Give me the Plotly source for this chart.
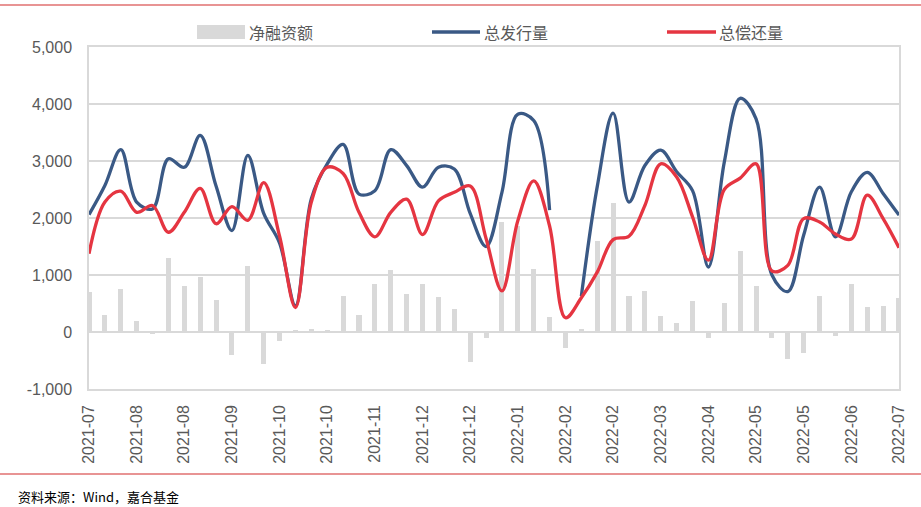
import pandas as pd
import plotly.graph_objects as go

# weekly categories (x positions are categories)
weeks = list(pd.date_range("2021-07-11", periods=52, freq="7D").strftime("%Y-%m-%d"))
tick_labels = ["2021-07", "2021-08", "2021-08", "2021-09", "2021-10", "2021-10",
               "2021-11", "2021-12", "2021-12", "2022-01", "2022-02", "2022-02",
               "2022-03", "2022-04", "2022-05", "2022-05", "2022-06", "2022-07"]

net_financing = [700, 290, 750, 200, -30, 1300, 800, 960, 570, -410,
                 1150, -570, -150, 30, 60, 20, 625, 300, 850, 1080,
                 670, 850, 615, 400, -530, -100, 1930, 1860, 1100, 265,
                 -275, 60, 1590, 2270, 640, 720, 280, 150, 540, -110,
                 510, 1415, 800, -100, -480, -360, 640, -70, 850, 440,
                 450, 590]
total_issuance = [2060, 2570, 3200, 2280, 2160, 3040, 2890, 3450, 2560, 1780,
                  3100, 2080, 1560, 460, 2340, 2950, 3290, 2420, 2480, 3200,
                  2920, 2540, 2890, 2860, 2080, 1500, 2450, 3820, 3710, 2140,
                  None, 630, 2550, 3840, 2280, 2920, 3190, 2810, 2480, 1140,
                  2980, 4100, 3740, 1000, 710, 1700, 2540, 1670, 2460, 2800,
                  2430, 2050]
total_repayment = [1375, 2280, 2470, 2100, 2220, 1750, 2100, 2520, 1900, 2200,
                   1960, 2620, 1680, 430, 2280, 2890, 2780, 2100, 1670, 2100,
                   2330, 1710, 2300, 2450, 2560, 1640, 720, 1950, 2650, 1860,
                   250, 600, 1050, 1620, 1680, 2220, 2950, 2720, 2020, 1260,
                   2500, 2700, 2950, 1070, 1170, 1990, 1930, 1720, 1630, 2400,
                   1990, 1480]

GRAY = "#d9d9d9"
BLUE = "#3a5985"
RED = "#e53541"
TXT = "#595959"
FONT = "Liberation Sans, Arial, sans-serif"
CJK = "Noto Sans CJK SC, sans-serif"

fig = go.Figure()
fig.add_trace(go.Bar(x=weeks, y=net_financing, name="净融资额",
                     marker=dict(color=GRAY, line=dict(width=0)), width=0.32,
                     showlegend=False))
fig.add_trace(go.Scatter(x=weeks, y=total_issuance, name="总发行量", mode="lines",
                         line=dict(color=BLUE, width=3.3, shape="spline", smoothing=1.0),
                         connectgaps=False, showlegend=False))
fig.add_trace(go.Scatter(x=weeks, y=total_repayment, name="总偿还量", mode="lines",
                         line=dict(color=RED, width=3.3, shape="spline", smoothing=1.0),
                         showlegend=False))

L, R, T, B = 89, 22, 47, 118
W, H = 921, 507
pw, ph = W - L - R, H - T - B

def px(x):
    return (x - L) / pw

def py(y):
    return (H - B - y) / ph

shapes = [
    # top and bottom red rules
    dict(type="line", xref="paper", yref="paper", x0=px(0), x1=px(W), y0=py(5), y1=py(5),
         line=dict(color="#e07070", width=1.5)),
    dict(type="line", xref="paper", yref="paper", x0=px(0), x1=px(W), y0=py(474), y1=py(474),
         line=dict(color="#e07070", width=1.5)),
    # legend symbols
    dict(type="rect", xref="paper", yref="paper", x0=px(197), x1=px(245), y0=py(39), y1=py(25),
         fillcolor=GRAY, line=dict(width=0)),
    dict(type="line", xref="paper", yref="paper", x0=px(432), x1=px(480), y0=py(32), y1=py(32),
         line=dict(color=BLUE, width=3.3)),
    dict(type="line", xref="paper", yref="paper", x0=px(667), x1=px(716), y0=py(32), y1=py(32),
         line=dict(color=RED, width=3.3)),
]
annotations = [
    dict(text="净融资额", xref="paper", yref="paper", x=px(247), y=py(32), xanchor="left",
         yanchor="middle", showarrow=False, font=dict(family=CJK, size=16, color=TXT)),
    dict(text="总发行量", xref="paper", yref="paper", x=px(482), y=py(32), xanchor="left",
         yanchor="middle", showarrow=False, font=dict(family=CJK, size=16, color=TXT)),
    dict(text="总偿还量", xref="paper", yref="paper", x=px(717), y=py(32), xanchor="left",
         yanchor="middle", showarrow=False, font=dict(family=CJK, size=16, color=TXT)),
    dict(text="资料来源：Wind，嘉合基金", xref="paper", yref="paper", x=px(16), y=py(496),
         xanchor="left", yanchor="middle", showarrow=False,
         font=dict(family=CJK, size=13, color="#000000")),
]

fig.update_layout(
    width=W, height=H,
    margin=dict(l=L, r=R, t=T, b=B),
    paper_bgcolor="white", plot_bgcolor="white",
    bargap=0,
    shapes=shapes, annotations=annotations,
    showlegend=False,
    font=dict(family=FONT, size=16, color=TXT),
)
fig.update_xaxes(
    type="category", range=[0, 51],
    tickmode="array", tickvals=weeks[::3], ticktext=tick_labels,
    tickangle=-90, tickfont=dict(family=FONT, size=16, color=TXT),
    showgrid=False, showline=True, mirror=True, linecolor=GRAY, linewidth=1.5,
    ticks="", ticklabelstandoff=8, zeroline=False,
)
fig.update_yaxes(
    range=[-1000, 5000], tickmode="array",
    tickvals=[-1000, 0, 1000, 2000, 3000, 4000, 5000],
    ticktext=["-1,000", "0", "1,000", "2,000", "3,000", "4,000", "5,000"],
    tickfont=dict(family=FONT, size=16, color=TXT),
    showgrid=True, gridcolor=GRAY, gridwidth=1.5,
    zeroline=True, zerolinecolor=GRAY, zerolinewidth=1.5,
    showline=True, mirror=True, linecolor=GRAY, linewidth=1.5,
    ticks="", ticklabelstandoff=12,
)

fig.write_html("out.html")
